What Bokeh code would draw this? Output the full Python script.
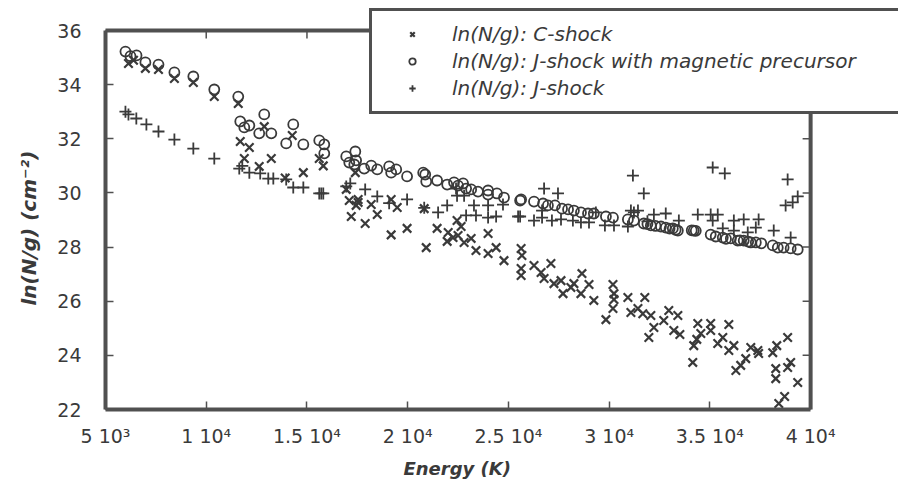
from bokeh.plotting import figure
from bokeh.models import (ColumnDataSource, Legend, LegendItem, FixedTicker, Range1d, Title)
from bokeh.embed import file_html
from bokeh.resources import INLINE

# ---------------- data ----------------
c_shock_E = [6140, 6390, 6980, 7630, 8420, 9360, 10400, 11590, 11690, 12140,
             12880, 11890, 12630, 13230, 13920, 14270, 14820, 15610, 15810, 17400,
             16950, 17100, 17540, 17200, 17890, 18490, 18190, 19180, 19480, 19180,
             17540, 17440, 19970, 20820, 21460, 20920, 22010, 22250, 21960, 22500,
             22450, 22650, 22800, 23150, 23390, 23990, 23990, 24390, 24780, 25630,
             25670, 25630, 25630, 26270, 26620, 26770, 27110, 27260, 27610, 27710,
             28100, 28250, 28600, 29000, 28650, 29240, 30190, 30240, 30240, 30190,
             29840, 30930, 31080, 31430, 31770, 31670, 32070, 32220, 31970, 32710,
             32960, 33410, 33210, 33510, 34150, 34200, 34350, 34400, 34550, 35040,
             35040, 35390, 35640, 35940, 35940, 36190, 36290, 36530, 36780, 37030,
             37380, 37420, 38120, 38320, 38860, 38270, 38270, 38860, 39010, 39360,
             38710, 38420]
c_shock_N = [34.78, 34.90, 34.60, 34.56, 34.23, 34.08, 33.56, 33.30, 31.90, 31.68,
             32.45, 31.27, 30.98, 31.27, 30.55, 32.12, 30.75, 31.27, 31.00, 30.75,
             30.13, 29.72, 29.65, 29.13, 28.87, 29.20, 29.57, 29.76, 29.46, 28.45,
             29.76, 29.54, 28.69, 29.42, 28.69, 27.98, 28.54, 28.35, 28.21, 28.43,
             28.98, 28.76, 28.17, 28.32, 27.87, 27.76, 28.50, 27.98, 27.50, 27.95,
             27.69, 27.21, 26.95, 27.32, 27.06, 26.84, 27.39, 26.65, 26.76, 26.28,
             26.51, 26.65, 26.28, 26.62, 27.02, 26.03, 26.62, 26.28, 26.06, 25.73,
             25.32, 26.14, 25.58, 25.73, 26.14, 25.54, 25.47, 25.03, 24.66, 25.29,
             25.66, 25.47, 24.92, 24.77, 23.74, 24.36, 24.59, 25.18, 24.81, 25.18,
             24.92, 24.44, 24.66, 25.14, 24.18, 24.36, 23.44, 23.63, 23.88, 24.29,
             24.18, 24.07, 24.10, 24.36, 24.66, 23.51, 23.14, 23.55, 23.74, 23.00,
             22.48, 22.22]

jmag_E = [5990, 6240, 6540, 6980, 7630, 8420, 9360, 10400, 11590, 11690,
          11890, 12140, 12880, 12630, 13230, 13970, 14320, 14820, 15610, 15860,
          15860, 16950, 17400, 17440, 17100, 17350, 17840, 18190, 18490, 19080,
          19430, 19180, 19970, 20770, 20920, 20870, 21460, 21960, 22300, 22500,
          22750, 22900, 23150, 23490, 23990, 23990, 24430, 24780, 25630, 25580,
          26270, 26720, 26960, 27310, 27660, 27960, 28250, 28600, 28950, 29240,
          29840, 30190, 30930, 31230, 31720, 31900, 32070, 32300, 32570, 32810,
          33000, 33160, 33300, 33410, 34100, 34200, 34300, 35040, 35290, 35640,
          35800, 36040, 36380, 36500, 36680, 36900, 37030, 37280, 37550, 38120,
          38370, 38660, 39010, 39360]
jmag_N = [35.22, 35.05, 35.08, 34.82, 34.74, 34.45, 34.30, 33.82, 33.56, 32.64,
          32.42, 32.49, 32.90, 32.20, 32.20, 31.83, 32.53, 31.79, 31.94, 31.79,
          31.46, 31.35, 31.53, 31.20, 31.12, 31.05, 30.90, 31.01, 30.87, 30.98,
          30.87, 30.75, 30.61, 30.75, 30.42, 30.68, 30.46, 30.31, 30.39, 30.27,
          30.35, 30.16, 30.13, 30.05, 30.09, 29.94, 29.98, 29.83, 29.76, 29.72,
          29.68, 29.61, 29.54, 29.54, 29.42, 29.39, 29.35, 29.28, 29.24, 29.24,
          29.13, 29.09, 29.02, 28.98, 28.87, 28.85, 28.80, 28.78, 28.76, 28.72,
          28.68, 28.69, 28.64, 28.61, 28.62, 28.61, 28.60, 28.46, 28.39, 28.35,
          28.30, 28.32, 28.24, 28.25, 28.24, 28.20, 28.17, 28.17, 28.14, 28.06,
          27.98, 27.98, 27.95, 27.91]

j_E = [5990, 6140, 6530, 7030, 7630, 8420, 9360, 10400, 11640, 11790,
       12140, 12680, 13080, 13330, 13970, 14320, 14820, 15610, 15710, 15810,
       16950, 17150, 17890, 18490, 19080, 19970, 21510, 21960, 22450, 22400,
       20820, 22800, 23290, 23990, 24730, 22900, 23390, 23990, 24390, 25580,
       25480, 26270, 26670, 26670, 27160, 27610, 28200, 28600, 29000, 29340,
       29790, 30240, 30930, 31230, 26770, 27460, 31180, 31720, 32220, 32810,
       33460, 34400, 35040, 35390, 35140, 35640, 36190, 36680, 37420, 37280,
       35140, 35740, 38860, 38760, 39110, 39360, 38170, 39010, 36190, 36880,
       31900, 31080, 31430]
j_N = [33.00, 32.90, 32.75, 32.53, 32.27, 31.97, 31.64, 31.27, 30.90, 31.00,
       30.75, 30.72, 30.53, 30.53, 30.50, 30.20, 30.20, 29.98, 29.98, 29.98,
       30.24, 30.35, 30.13, 29.87, 29.62, 29.76, 29.28, 29.54, 29.90, 30.16,
       29.45, 29.90, 29.54, 29.54, 29.57, 29.17, 29.17, 29.09, 29.13, 29.13,
       29.13, 28.98, 29.09, 29.35, 28.98, 29.02, 28.98, 28.91, 28.91, 29.28,
       28.80, 28.80, 28.76, 29.28, 30.16, 29.98, 30.64, 29.98, 29.20, 29.24,
       28.98, 29.20, 29.20, 29.20, 28.98, 28.69, 28.98, 29.02, 29.02, 28.72,
       30.94, 30.72, 30.50, 29.54, 29.65, 29.87, 28.61, 28.35, 28.61, 28.54,
       28.95, 29.35, 29.35]

x_ticks = [5000, 10000, 15000, 20000, 25000, 30000, 35000, 40000]
x_tick_labels = ["5 10\u00b3", "1 10\u2074", "1.5 10\u2074", "2 10\u2074",
                 "2.5 10\u2074", "3 10\u2074", "3.5 10\u2074", "4 10\u2074"]
y_ticks = [22, 24, 26, 28, 30, 32, 34, 36]

x_title = "Energy (K)"
y_title = "ln(N/g) (cm\u207b\u00b2)"
series_labels = ["ln(N/g): C-shock",
                 "ln(N/g): J-shock with magnetic precursor",
                 "ln(N/g): J-shock"]

X_MIN, X_MAX = 5000, 40000
Y_MIN, Y_MAX = 22, 36

# ---------------- layout (pixels) ----------------
W, H = 898, 491
LEFT, BOTTOM = 104, 82          # borders around the frame
BOX_W, BOX_H = 706, 379         # the drawn axes box inside the frame
frame_w = W - LEFT
frame_h = H - BOTTOM
top_pad = frame_h - BOX_H       # frame space above the box (legend lives there)
right_pad = frame_w - BOX_W
x_per_px = (X_MAX - X_MIN) / BOX_W
y_per_px = (Y_MAX - Y_MIN) / BOX_H

INK = "#3a3a3a"
EDGE = "#505050"
TXT = "#3a3a3a"
FONT = "DejaVu Sans"

p = figure(width=W, height=H, output_backend="svg", toolbar_location=None,
           title=None,
           x_range=Range1d(X_MIN, X_MAX + right_pad * x_per_px),
           y_range=Range1d(Y_MIN, Y_MAX + top_pad * y_per_px),
           min_border_left=LEFT, min_border_right=0,
           min_border_top=0, min_border_bottom=BOTTOM)
p.background_fill_color = "white"
p.border_fill_color = "white"
p.grid.visible = False
p.outline_line_color = None

# top and right edges of the box, with inward ticks
tick_len = 8
p.segment(x0=[X_MIN, X_MAX], y0=[Y_MAX, Y_MIN], x1=[X_MAX, X_MAX], y1=[Y_MAX, Y_MAX],
          line_color=EDGE, line_width=4, line_cap="square")
p.segment(x0=x_ticks, y0=[Y_MAX] * len(x_ticks), x1=x_ticks,
          y1=[Y_MAX - tick_len * y_per_px] * len(x_ticks),
          line_color=EDGE, line_width=1.5)
p.segment(x0=[X_MAX] * len(y_ticks), y0=y_ticks,
          x1=[X_MAX - tick_len * x_per_px] * len(y_ticks), y1=y_ticks,
          line_color=EDGE, line_width=1.5)

src_c = ColumnDataSource(dict(x=c_shock_E, y=c_shock_N))
src_m = ColumnDataSource(dict(x=jmag_E, y=jmag_N))
src_j = ColumnDataSource(dict(x=j_E, y=j_N))

r_c = p.scatter("x", "y", source=src_c, marker="x", size=12,
                line_color=INK, line_width=2.2)
r_m = p.scatter("x", "y", source=src_m, marker="circle", size=10,
                fill_color=None, line_color=INK, line_width=1.8)
r_j = p.scatter("x", "y", source=src_j, marker="cross", size=12,
                line_color=INK, line_width=1.8)

def style_axis(ax):
    ax.axis_line_color = EDGE
    ax.axis_line_width = 4
    ax.major_tick_in = tick_len
    ax.major_tick_out = 0
    ax.major_tick_line_color = EDGE
    ax.major_tick_line_width = 1.5
    ax.minor_tick_line_color = None
    ax.major_label_text_font = FONT
    ax.major_label_text_color = TXT
    ax.major_label_text_font_size = "19px"

xa = p.xaxis[0]
xa.ticker = FixedTicker(ticks=x_ticks)
xa.bounds = (X_MIN, X_MAX)
xa.major_label_overrides = {t: l for t, l in zip(x_ticks, x_tick_labels)}
style_axis(xa)
xa.major_label_standoff = 15

ya = p.yaxis[0]
ya.ticker = FixedTicker(ticks=y_ticks)
ya.bounds = (Y_MIN, Y_MAX)
style_axis(ya)
ya.major_label_standoff = 24

# axis titles placed along the drawn box (not the larger frame)
p.add_layout(Title(text=x_title, align="left", offset=298, standoff=12,
                   text_font=FONT, text_font_style="bold italic",
                   text_font_size="18px", text_color=TXT), "below")
p.add_layout(Title(text=y_title, align="left", offset=104, standoff=28,
                   text_font=FONT, text_font_style="bold italic",
                   text_font_size="20px", text_color=TXT), "left")

items = [LegendItem(label=series_labels[0], renderers=[r_c]),
         LegendItem(label=series_labels[1], renderers=[r_m]),
         LegendItem(label=series_labels[2], renderers=[r_j])]
legend_left_px, legend_bottom_px = 368, 114
legend = Legend(items=items,
                location=(legend_left_px - LEFT, frame_h - legend_bottom_px),
                margin=0, padding=11, spacing=3, glyph_width=58, glyph_height=16,
                label_height=20, label_width=540, label_standoff=11,
                label_text_font=FONT, label_text_font_style="italic",
                label_text_font_size="20px", label_text_color=TXT,
                border_line_color=EDGE, border_line_width=3.5,
                border_line_alpha=1.0,
                background_fill_color="white", background_fill_alpha=1.0)
p.add_layout(legend, "center")

open("out.html", "w").write(file_html(p, INLINE))
